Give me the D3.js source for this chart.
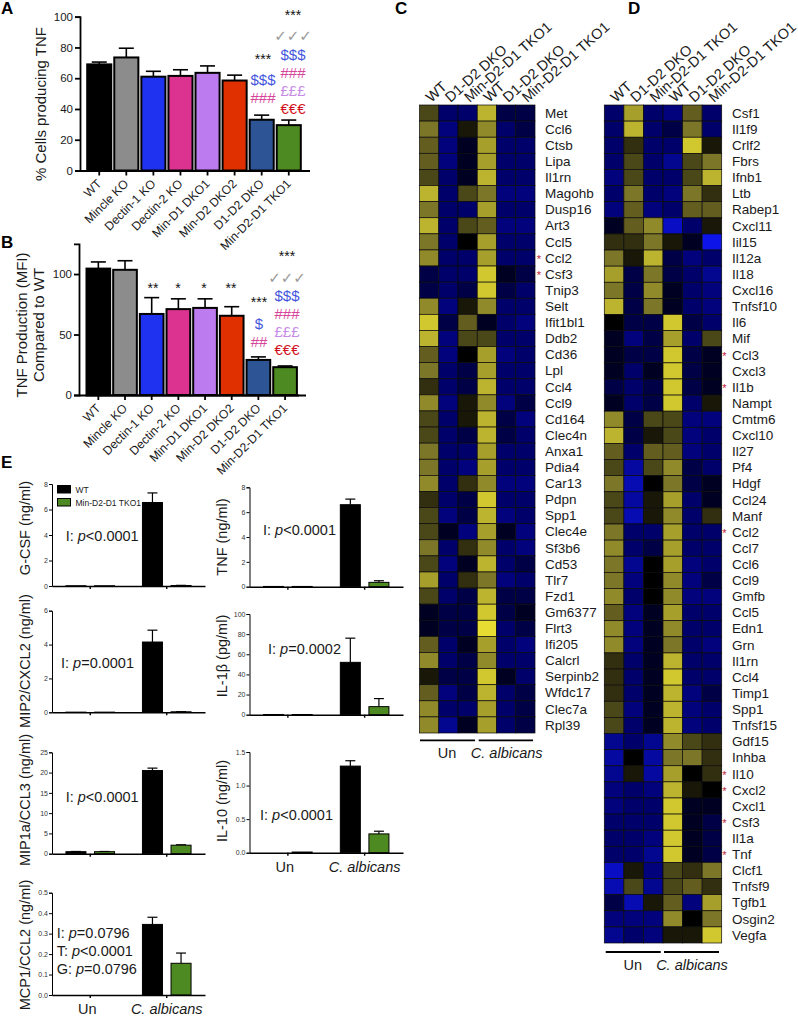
<!DOCTYPE html>
<html>
<head>
<meta charset="utf-8">
<style>
  html, body { margin: 0; padding: 0; background: #fff; }
  svg { display: block; }
  text { font-family: "Liberation Sans", Arial, sans-serif; fill: #1a1a1a; }
</style>
<script src="https://cdn.jsdelivr.net/npm/d3@7"></script>
</head>
<body>
<div id="chart"></div>
<script>
// bar charts A and B
const groups = ["WT", "Mincle KO", "Dectin-1 KO", "Dectin-2 KO", "Min-D1 DKO1", "Min-D2 DKO2", "D1-D2 DKO", "Min-D2-D1 TKO1"];
const groupColors = ["#000000", "#8c8c8c", "#1f32f0", "#dc3390", "#bd7bf0", "#e03000", "#2d5595", "#4e8a22"];
const pctTnf = [69, 73.5, 61, 61.5, 63.5, 58.5, 33, 29.5];
const pctTnfTop = [70.5, 79.5, 64.5, 65.5, 68, 62, 36, 32.8];
const mfiTnf = [104.5, 103.5, 67, 71, 72, 65.5, 29, 23];
const mfiTnfTop = [110, 111, 80.5, 79.5, 79.5, 73, 31.5, 24];

// heatmaps, -10 blue, 0 black, 10 yellow
const heatCols = ["WT", "D1-D2 DKO", "Min-D2-D1 TKO1", "WT", "D1-D2 DKO", "Min-D2-D1 TKO1"];
const genesC = ["Met", "Ccl6", "Ctsb", "Lipa", "Il1rn", "Magohb", "Dusp16", "Art3", "Ccl5", "Ccl2", "Csf3", "Tnip3", "Selt", "Ifit1bl1", "Ddb2", "Cd36", "Lpl", "Ccl4", "Ccl9", "Cd164", "Clec4n", "Anxa1", "Pdia4", "Car13", "Pdpn", "Spp1", "Clec4e", "Sf3b6", "Cd53", "Tlr7", "Fzd1", "Gm6377", "Flrt3", "Ifi205", "Calcrl", "Serpinb2", "Wfdc17", "Clec7a", "Rpl39"];
const starsC = ["Ccl2", "Csf3"];
const valuesC = [
  [3, -3, -3, 8, -2, -2], [5, -4, 1, 6, -3, -2], [4, -4, -1, 7, -3, -3], [4, -4, -1, 7, -3, -3],
  [3, -3, -1, 8, -3, -3], [8, -3, 3, 5, -4, -4], [5, -3, -3, 7, -3, -3], [8, -3, 3, 4, -4, -4],
  [5, -3, 0, 7, -3, -3], [6, -3, -3, 7, -3, -3], [-2, -3, -3, 9, -1, -2], [-2, -3, -2, 9, -2, -3],
  [6, -4, 1, 6, -3, -3], [9, -2, 4, -1, -3, -4], [8, -4, 3, 3, -3, -3], [4, -4, 0, 7, -4, -3],
  [5, -3, -2, 7, -3, -3], [2, -3, -2, 8, -3, -3], [6, -4, 1, 6, -4, -2], [3, -3, 1, 8, -2, -4],
  [3, -3, -2, 8, -2, -3], [5, -3, -3, 7, -3, -3], [5, -3, -4, 7, -3, -3], [6, -3, 2, 6, -4, -4],
  [2, -3, -2, 9, -3, -3], [3, -4, -2, 8, -4, -3], [3, -1, -4, 7, -1, -4], [5, -3, 2, 6, -3, -4],
  [3, -4, -1, 8, -3, -2], [7, -3, 2, 5, -4, -3], [3, -3, -2, 8, -2, -2], [-1, -2, -2, 9, -2, -1],
  [-1, -2, -2, 10, -3, -2], [4, -3, -1, 7, -3, -4], [6, -3, -2, 6, -3, -3], [1, -2, -2, 9, -1, -3],
  [4, -4, -2, 8, -3, -2], [6, -3, -3, 7, -3, -2], [6, -5, -1, 7, -3, -2]
];
const genesD = ["Csf1", "Il1f9", "Crlf2", "Fbrs", "Ifnb1", "Ltb", "Rabep1", "Cxcl11", "Iil15", "Il12a", "Il18", "Cxcl16", "Tnfsf10", "Il6", "Mif", "Ccl3", "Cxcl3", "Il1b", "Nampt", "Cmtm6", "Cxcl10", "Il27", "Pf4", "Hdgf", "Ccl24", "Manf", "Ccl2", "Ccl7", "Ccl6", "Ccl9", "Gmfb", "Ccl5", "Edn1", "Grn", "Il1rn", "Ccl4", "Timp1", "Spp1", "Tnfsf15", "Gdf15", "Inhba", "Il10", "Cxcl2", "Cxcl1", "Csf3", "Il1a", "Tnf", "Clcf1", "Tnfsf9", "Tgfb1", "Osgin2", "Vegfa"];
const starsD = ["Ccl3", "Il1b", "Ccl2", "Il10", "Cxcl2", "Csf3", "Tnf"];
const valuesD = [
  [-3, 7, -3, -4, 4, -3], [-3, 8, -3, -2, 5, -3], [-3, 2, -3, -3, 9, 1], [-3, 3, -3, -5, 3, 5],
  [-4, 3, -3, -3, 3, 8], [-3, 5, -3, -4, 5, 2], [-4, 4, -4, -3, 4, 4], [-1, 4, 6, -8, -3, 1],
  [2, 2, 5, 1, -1, -10], [5, 1, 8, -2, -4, -3], [7, -2, 5, -2, -3, -5], [5, -2, 6, -1, -3, -4],
  [8, -2, 5, -1, -3, -4], [0, -2, -2, 9, -2, -3], [-1, -4, -2, 7, -3, 3], [-1, -2, -2, 9, -2, -1],
  [-1, -3, -1, 9, -2, -1], [-2, -3, -2, 9, -2, -1], [-1, -3, -2, 9, -3, 1], [6, -2, 3, 3, -4, -4],
  [8, -2, 1, 3, -4, -3], [4, -3, 4, 4, -4, -3], [3, -6, 3, 6, -2, -3], [5, -7, 0, 5, -2, -1],
  [3, -6, 1, 7, -3, -1], [3, -7, 1, 6, -3, 2], [5, -3, -3, 7, -3, -3], [6, -3, -2, 7, -3, -3],
  [5, -5, 0, 7, -4, -3], [5, -4, 0, 6, -4, -2], [6, -3, 0, 6, -4, -4], [4, -4, -1, 7, -3, -3],
  [6, -4, -1, 6, -3, -3], [6, -4, -1, 5, -3, -4], [2, -3, -1, 8, -3, -3], [2, -3, -1, 9, -3, -3],
  [2, -3, -1, 8, -4, -2], [3, -4, -1, 8, -4, -3], [3, -3, -1, 8, -4, -3], [-5, -3, -5, 6, 3, 2],
  [-6, 0, -6, 5, 5, 2], [-5, 1, -6, 7, 0, 2], [-4, -3, -4, 8, 1, 0], [-4, -3, -3, 9, -1, -1],
  [-3, -3, -3, 9, -1, -2], [-3, -3, -4, 9, -1, -2], [-3, -3, -5, 9, -1, -2], [-8, 1, -4, 3, 2, 5],
  [-7, 3, -5, 3, 4, 2], [-2, -7, 1, 4, -4, 7], [-4, -4, -4, 6, 0, 5], [-5, -3, -4, 1, 1, 9]
];

// panel E, each pair is [Un, C. albicans]
const treatments = ["Un", "C. albicans"];
const eSeries = ["WT", "Min-D2-D1 TKO1"];
const eColors = ["#000000", "#4e8a22"];
const eTitles = ["G-CSF (ng/ml)", "TNF (ng/ml)", "MIP2/CXCL2 (ng/ml)", "IL-1\u03b2 (pg/ml)", "MIP1a/CCL3 (ng/ml)", "IL-10 (ng/ml)", "MCP1/CCL2 (ng/ml)"];
const eWt = [[0.02, 6.55], [0.02, 6.6], [0.01, 4.15], [0.2, 52], [0.5, 20.5], [0, 1.29], [0, 0.345]];
const eWtTop = [[0.02, 7.3], [0.02, 7.05], [0.01, 4.85], [0.2, 76], [0.55, 21.1], [0, 1.37], [0, 0.38]];
const eTko = [[0.02, 0.04], [0.02, 0.35], [0.01, 0.03], [0.2, 8], [0.5, 2.1], [0.01, 0.28], [0, 0.155]];
const eTkoTop = [[0.02, 0.05], [0.02, 0.48], [0.01, 0.04], [0.2, 16], [0.55, 2.2], [0.01, 0.32], [0, 0.205]];
const eTicks = [[0, 2, 4, 6, 8], [0, 2, 4, 6, 8], [0, 2, 4, 6], [0, 20, 40, 60, 80, 100], [0, 5, 10, 15, 20, 25], [0, 0.5, 1, 1.5], [0, 0.1, 0.2, 0.3, 0.4, 0.5]];
const eFormats = ["d", "d", "d", "d", "d", ".1f", ".1f"];
const eStats = [["I: |p|<0.0001"], ["I: |p|<0.0001"], ["I: |p|=0.0001"], ["I: |p|=0.0002"], ["I: |p|<0.0001"], ["I: |p|<0.0001"], ["I: |p|=0.0796", "T: |p|<0.0001", "G: |p|=0.0796"]];

const width = 798, height = 1017;
const svg = d3.select("#chart").append("svg").attr("width", width).attr("height", height);

function label(x, y, txt, size, opts = {}) {
  return svg.append("text").attr("x", x).attr("y", y).text(txt)
    .attr("font-size", size)
    .attr("text-anchor", opts.anchor || "start")
    .attr("font-weight", opts.weight || null)
    .attr("font-style", opts.style || null)
    .style("fill", opts.fill || null)
    .style("font-family", opts.family || null);
}

function vLabel(x, y, txt, size) {
  svg.append("text").attr("transform", `translate(${x},${y}) rotate(-90)`)
    .attr("text-anchor", "middle").attr("font-size", size).text(txt);
}

[["A", 1, 14], ["B", 1, 248], ["C", 395, 14], ["D", 628, 14], ["E", 1, 468]].forEach(d =>
  label(d[1], d[2], d[0], 17, { weight: "bold", fill: "#000" }));

//bar chart code for A and B
function barPanel(vals, tops, cfg) {
  let x = d3.scaleBand().domain(groups).range(cfg.xr);
  let y = d3.scaleLinear().domain(cfg.yd).range(cfg.yr);
  let g = svg.append("g");
  let rows = groups.map((name, i) => ({ name, v: vals[i], top: tops[i], color: groupColors[i] }));
  let mid = d => x(d.name) + x.bandwidth() / 2;

  let err = g.append("g").selectAll("g").data(rows).join("g")
    .attr("stroke", "#000").attr("stroke-width", 1.6);
  err.append("line")
    .attr("x1", mid).attr("x2", mid)
    .attr("y1", d => y(d.v)).attr("y2", d => y(d.top));
  err.append("line")
    .attr("x1", d => mid(d) - 7.5).attr("x2", d => mid(d) + 7.5)
    .attr("y1", d => y(d.top)).attr("y2", d => y(d.top));

  g.append("g").selectAll("rect").data(rows).join("rect")
    .attr("x", d => x(d.name) + 1.5).attr("width", x.bandwidth() - 3)
    .attr("y", d => y(d.v)).attr("height", d => y(0) - y(d.v))
    .attr("fill", d => d.color).attr("stroke", "#000").attr("stroke-width", 2);

  let yAxis = g.append("g").attr("transform", `translate(${cfg.axisX},0)`)
    .call(d3.axisLeft(y).tickValues(cfg.ticks).tickSize(5).tickPadding(2));
  yAxis.selectAll(".tick text").attr("font-size", 11.5).style("font-family", "Liberation Sans");
  yAxis.selectAll("line,path").attr("stroke", "#000").attr("stroke-width", 1.8);

  let xAxis = g.append("g").attr("transform", `translate(0,${y(0)})`)
    .call(d3.axisBottom(x).tickSize(5).tickSizeOuter(0));
  xAxis.selectAll("line,path").attr("stroke", "#000").attr("stroke-width", 1.8);
  xAxis.append("line").attr("x1", cfg.axisX).attr("x2", cfg.axisEnd)
    .attr("y1", 0.5).attr("y2", 0.5).attr("stroke", "#000").attr("stroke-width", 1.8);
  xAxis.selectAll(".tick text")
    .attr("font-size", 12.2).style("font-family", "Liberation Sans")
    .attr("text-anchor", "end").attr("y", 0).attr("dy", 0)
    .attr("transform", "translate(3,14) rotate(-45)");
}

barPanel(pctTnf, pctTnfTop, { xr: [85.7, 302.3], axisX: 80, axisEnd: 310, yd: [0, 100], yr: [170.5, 16.7], ticks: [0, 20, 40, 60, 80, 100] });
barPanel(mfiTnf, mfiTnfTop, { xr: [85, 298.4], axisX: 79, axisEnd: 306, yd: [0, 125], yr: [395, 243.8], ticks: [0, 50, 100] });

vLabel(46, 104, "% Cells producing TNF", 15);
vLabel(27, 325, "TNF Production (MFI)", 15);
vLabel(44, 325, "Compared to WT", 15);

// significance marks
const sigColors = { "*": "#111", "$": "#4455dd", "#": "#d6459a", "\u00a3": "#c98be8", "\u20ac": "#d01020" };
function sig(cx, y, txt) {
  label(cx, y, txt, txt[0] === "*" ? 14 : 15, { anchor: "middle", fill: sigColors[txt[0]] });
}
function checks(cx, y) {
  label(cx, y, "\u2713\u2713\u2713", 15, { anchor: "middle", fill: "#999", family: "DejaVu Sans" });
}
sig(293, 20, "***"); checks(293, 41);
sig(293, 60, "$$$"); sig(293, 78, "###"); sig(293, 96, "\u00a3\u00a3\u00a3"); sig(293, 114, "\u20ac\u20ac\u20ac");
sig(263, 64, "***"); sig(263, 85, "$$$"); sig(263, 103, "###");

sig(287, 261, "***"); checks(287, 283);
sig(287, 301, "$$$"); sig(287, 319, "###"); sig(287, 337, "\u00a3\u00a3\u00a3"); sig(287, 355, "\u20ac\u20ac\u20ac");
sig(153, 293, "**"); sig(178, 293, "*"); sig(204, 293, "*"); sig(231, 293, "**");
sig(259, 307, "***"); sig(259, 329, "$"); sig(259, 347, "##");

//heatmaps
const heatColor = d3.scaleLinear()
  .domain([-10, -3, 0, 5, 10])
  .range(["#0c14e8", "#00006a", "#000000", "#7c7628", "#e6dc32"]);

function heatmap(genes, values, stars, cfg) {
  let x = d3.scaleBand().domain(d3.range(6)).range(cfg.xr);
  let y = d3.scaleBand().domain(genes.map((d, i) => i)).range(cfg.yr);
  let g = svg.append("g");

  let rows = g.selectAll("g").data(values).join("g")
    .attr("transform", (d, i) => `translate(0,${y(i)})`);
  rows.selectAll("rect").data(d => d).join("rect")
    .attr("x", (d, i) => x(i)).attr("width", x.bandwidth()).attr("height", y.bandwidth())
    .attr("fill", d => heatColor(d)).attr("stroke", "#0a0a0a").attr("stroke-width", 0.7);

  g.append("g").selectAll("text").data(genes).join("text")
    .attr("x", cfg.geneX).attr("y", (d, i) => y(i) + y.bandwidth() / 2).attr("dy", "0.35em")
    .attr("font-size", 13.5).text(d => d);

  g.append("g").selectAll("text").data(genes.map((d, i) => ({ d, i })).filter(o => stars.includes(o.d))).join("text")
    .attr("x", cfg.starX).attr("y", o => y(o.i) + y.bandwidth() / 2 + 5)
    .attr("font-size", 11).attr("text-anchor", "middle").style("fill", "#c0203a").text("*");

  g.append("g").selectAll("text").data(heatCols).join("text")
    .attr("transform", (d, i) => `translate(${x(i) + x.bandwidth() / 2 + 2},${cfg.yr[0] - 2}) rotate(-42)`)
    .attr("font-size", 14.5).text(d => d);

  g.append("g").selectAll("line").data(cfg.brackets).join("line")
    .attr("x1", d => d[0]).attr("x2", d => d[1])
    .attr("y1", cfg.bracketY).attr("y2", cfg.bracketY)
    .attr("stroke", "#000").attr("stroke-width", 1.8);

  label(cfg.brackets[0][0] + 27, cfg.bracketY + 17.5, "Un", 14.5, { anchor: "middle" });
  label(cfg.brackets[1][0] + 28, cfg.bracketY + 17.5, "C. albicans", 14.5, { anchor: "middle", style: "italic" });
}

heatmap(genesC, valuesC, starsC, { xr: [419.5, 535], yr: [105, 733], geneX: 545, starX: 539, bracketY: 740.3, brackets: [[420, 475], [478.7, 533]] });
heatmap(genesD, valuesD, starsD, { xr: [604.3, 721.7], yr: [105, 943], geneX: 732, starX: 724.5, bracketY: 952, brackets: [[605.7, 660.7], [664, 719]] });

//panel E
const eLayout = [
  { left: 52, right: 205, y0: 586, yTop: 484, labelX: 30, labelY: 528, statX: 65.7, statY: 540.7 },
  { left: 249.5, right: 403, y0: 586.7, yTop: 487.3, labelX: 227, labelY: 537, statX: 263, statY: 535 },
  { left: 52, right: 205, y0: 712.3, yTop: 610.7, labelX: 30, labelY: 661, statX: 61, statY: 668 },
  { left: 249.5, right: 403, y0: 714.7, yTop: 614, labelX: 227, labelY: 656, statX: 268, statY: 654 },
  { left: 52, right: 205, y0: 853.7, yTop: 752.3, labelX: 30, labelY: 800, statX: 65.7, statY: 801.7 },
  { left: 249.5, right: 403, y0: 852.7, yTop: 752, labelX: 227, labelY: 801, statX: 260, statY: 820 },
  { left: 52, right: 205, y0: 995, yTop: 892.7, labelX: 30, labelY: 945, statX: 56.7, statY: 938 }
];

eTitles.forEach((title, p) => {
  let cfg = eLayout[p];
  let ticks = eTicks[p];
  let x0 = d3.scaleBand().domain(treatments).range([cfg.left, cfg.right]);
  let x1 = d3.scaleBand().domain(eSeries).range([-24.3, 24.3]).paddingInner(0.3);
  let y = d3.scaleLinear().domain([0, d3.max(ticks)]).range([cfg.y0, cfg.yTop]);
  let g = svg.append("g");

  let series = [[eWt[p], eWtTop[p]], [eTko[p], eTkoTop[p]]];
  let bars = [];
  series.forEach((s, k) => treatments.forEach((t, j) =>
    bars.push({ t, name: eSeries[k], color: eColors[k], v: s[0][j], top: s[1][j] })));
  let barX = d => x0(d.t) + x0.bandwidth() / 2 + x1(d.name);

  let err = g.append("g").selectAll("g").data(bars.filter(d => d.top > d.v)).join("g")
    .attr("stroke", "#000").attr("stroke-width", 1.2);
  err.append("line")
    .attr("x1", d => barX(d) + x1.bandwidth() / 2).attr("x2", d => barX(d) + x1.bandwidth() / 2)
    .attr("y1", d => y(d.v)).attr("y2", d => y(d.top));
  err.append("line")
    .attr("x1", d => barX(d) + x1.bandwidth() / 2 - 5).attr("x2", d => barX(d) + x1.bandwidth() / 2 + 5)
    .attr("y1", d => y(d.top)).attr("y2", d => y(d.top));

  g.append("g").selectAll("rect").data(bars).join("rect")
    .attr("x", barX).attr("width", x1.bandwidth())
    .attr("y", d => y(d.v)).attr("height", d => y(0) - y(d.v))
    .attr("fill", d => d.color).attr("stroke", "#000").attr("stroke-width", 1);

  let yAxis = g.append("g").attr("transform", `translate(${cfg.left},0)`)
    .call(d3.axisLeft(y).tickValues(ticks).tickFormat(d3.format(eFormats[p])).tickSize(3).tickPadding(1));
  yAxis.selectAll(".tick text").attr("font-size", 7).style("font-family", "Liberation Sans").style("fill", "#333");
  yAxis.selectAll("line,path").attr("stroke", "#000").attr("stroke-width", 1);

  let showX = p >= 5;
  let xAxis = g.append("g").attr("transform", `translate(0,${y(0)})`)
    .call(d3.axisBottom(x0).tickSize(3).tickSizeOuter(0).tickFormat(d => showX ? d : ""));
  xAxis.selectAll("line,path").attr("stroke", "#000").attr("stroke-width", 1.4);
  xAxis.selectAll(".tick text")
    .attr("font-size", 14.5).style("font-family", "Liberation Sans")
    .attr("y", 9).attr("dy", "0.71em")
    .attr("dx", d => d === "Un" ? -3 : 0)
    .attr("font-style", d => d === "Un" ? null : "italic");

  vLabel(cfg.labelX, cfg.labelY, title, 14.5);

  eStats[p].forEach((line, i) => {
    let parts = line.split("|");
    let t = svg.append("text").attr("x", cfg.statX).attr("y", cfg.statY + i * 18).attr("font-size", 14.5);
    t.append("tspan").text(parts[0]);
    t.append("tspan").attr("font-style", "italic").text(parts[1]);
    t.append("tspan").text(parts[2]);
  });
});

// legend of panel E
eSeries.forEach((name, i) => {
  svg.append("rect").attr("x", 57.5).attr("y", 485.5 + i * 13).attr("width", 13).attr("height", 7.5)
    .attr("fill", eColors[i]).attr("stroke", "#000").attr("stroke-width", 1);
  label(75.5, 492.5 + i * 13, name, 8.5);
});
</script>
</body>
</html>
